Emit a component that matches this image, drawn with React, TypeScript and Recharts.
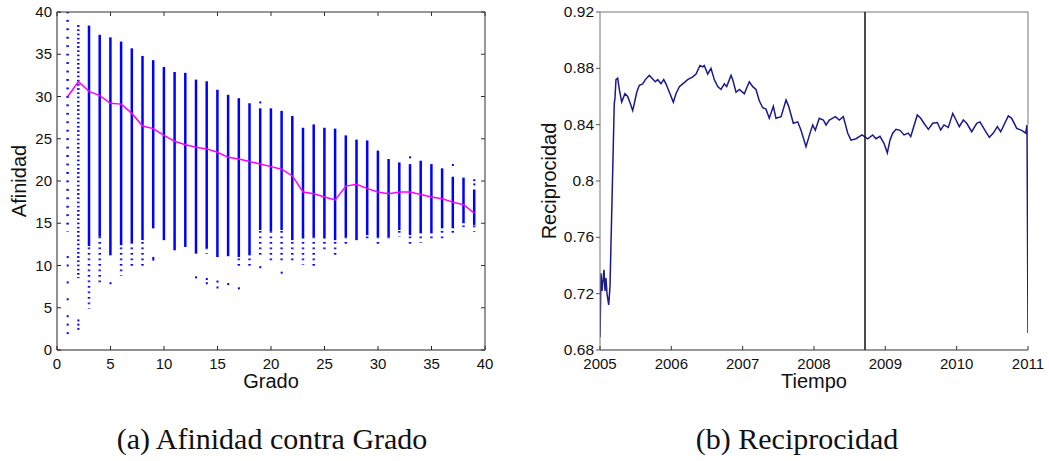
import React from "react";
import {
  ComposedChart,
  LineChart,
  Bar,
  Line,
  Scatter,
  Cell,
  XAxis,
  YAxis,
  ReferenceLine,
} from "recharts";

// (a) Afinidad contra Grado
const grado = [
  1, 2, 3, 4, 5, 6, 7, 8, 9, 10, 11, 12, 13, 14, 15, 16, 17, 18, 19, 20,
  21, 22, 23, 24, 25, 26, 27, 28, 29, 30, 31, 32, 33, 34, 35, 36, 37, 38, 39,
];
const afinidadMax = [
  40, 38.6, 38.4, 37.3, 37.0, 36.5, 35.7, 34.8, 34.3, 33.5, 32.9, 32.8, 32.0, 31.8, 30.8, 30.2, 29.8, 29.2, 28.6, 28.6,
  28.3, 27.7, 26.3, 26.7, 26.3, 26.2, 25.4, 24.9, 24.8, 23.6, 22.6, 22.2, 22.0, 22.4, 22.0, 21.5, 20.5, 20.4, 19.0,
];
const afinidadDenso = [
  40, 38.6, 12.3, 13.4, 11.2, 12.4, 12.6, 13.0, 14.4, 13.0, 11.8, 12.2, 11.4, 12.0, 11.0, 11.1, 11.0, 11.2, 14.2, 14.0,
  14.2, 13.0, 13.2, 13.3, 13.2, 13.0, 13.3, 13.0, 13.6, 13.3, 13.3, 14.2, 13.6, 13.8, 13.8, 14.4, 14.4, 15.0, 14.8,
];
const afinidadMin = [
  14, 8.5, 4.9, 7.7, 11.2, 8.8, 9.8, 9.9, 14.4, 13.0, 11.8, 12.2, 11.4, 11.4, 11.0, 11.1, 9.9, 9.8, 11.2, 10.3,
  10.5, 10.5, 10.1, 9.9, 11.6, 11.1, 12.2, 12.9, 13.0, 12.2, 12.8, 13.4, 12.2, 12.7, 12.8, 13.1, 13.8, 14.5, 14.0,
];
const afinidadMedia = [
  30.0, 31.75, 30.6, 30.1, 29.2, 29.1, 28.0, 26.5, 26.2, 25.4, 24.7, 24.3, 24.0, 23.8, 23.4, 22.8, 22.6, 22.3, 22.0, 21.7,
  21.4, 20.6, 18.7, 18.5, 18.1, 17.75, 19.4, 19.6, 19.1, 18.7, 18.5, 18.7, 18.7, 18.4, 18.1, 17.9, 17.5, 17.2, 16.2,
];
const atipicosGrado = [0, 1, 1, 1, 1, 1, 1, 1, 2, 2, 2, 5, 9, 9, 13, 14, 14, 15, 15, 16, 17, 19, 19, 21, 33, 37, 39, 39];
const atipicosAfinidad = [0, 2, 3, 4, 6, 8, 10, 11, 2.5, 3, 3.5, 7.9, 10.7, 10.9, 8.6, 8.4, 7.9, 8.1, 7.4, 7.8, 7.3, 29.3, 9.8, 9.15, 22.8, 21.9, 20.1, 19.6];
const ticksGrado = [0, 5, 10, 15, 20, 25, 30, 35, 40];
const ticksAfinidad = [0, 5, 10, 15, 20, 25, 30, 35, 40];

// (b) Reciprocidad
const tiempo = [
  2005.0, 2005.014, 2005.028, 2005.056, 2005.07, 2005.084, 2005.098, 2005.122, 2005.14, 2005.172,
  2005.2, 2005.21, 2005.224, 2005.248, 2005.271, 2005.304, 2005.35, 2005.388, 2005.425, 2005.458,
  2005.481, 2005.515, 2005.551, 2005.599, 2005.635, 2005.691, 2005.729, 2005.775, 2005.809, 2005.855,
  2005.893, 2005.925, 2005.981, 2006.028, 2006.065, 2006.112, 2006.159, 2006.229, 2006.3, 2006.346,
  2006.402, 2006.44, 2006.462, 2006.51, 2006.556, 2006.602, 2006.65, 2006.696, 2006.743, 2006.776,
  2006.837, 2006.86, 2006.907, 2006.953, 2007.023, 2007.093, 2007.141, 2007.187, 2007.233, 2007.281,
  2007.327, 2007.373, 2007.43, 2007.467, 2007.538, 2007.608, 2007.645, 2007.71, 2007.772, 2007.818,
  2007.888, 2007.944, 2007.982, 2008.018, 2008.074, 2008.131, 2008.168, 2008.215, 2008.299, 2008.355,
  2008.411, 2008.473, 2008.519, 2008.589, 2008.673, 2008.753, 2008.823, 2008.869, 2008.925, 2008.981,
  2009.028, 2009.065, 2009.103, 2009.15, 2009.206, 2009.262, 2009.322, 2009.356, 2009.384, 2009.448,
  2009.496, 2009.542, 2009.603, 2009.664, 2009.729, 2009.776, 2009.823, 2009.883, 2009.945, 2009.991,
  2010.037, 2010.093, 2010.141, 2010.211, 2010.281, 2010.327, 2010.397, 2010.458, 2010.514, 2010.57,
  2010.617, 2010.724, 2010.771, 2010.842, 2010.912, 2010.968, 2010.986, 2011.0,
];
const reciprocidad = [
  0.689, 0.7345, 0.722, 0.737, 0.722, 0.731, 0.72, 0.712, 0.725, 0.794,
  0.855, 0.859, 0.872, 0.873, 0.865, 0.856, 0.862, 0.86, 0.855, 0.85,
  0.855, 0.863, 0.868, 0.869, 0.872, 0.875, 0.873, 0.8705, 0.872, 0.869,
  0.872, 0.869, 0.862, 0.856, 0.862, 0.867, 0.869, 0.872, 0.874, 0.876,
  0.882, 0.881, 0.882, 0.876, 0.88, 0.872, 0.867, 0.865, 0.869, 0.867,
  0.875, 0.872, 0.863, 0.865, 0.862, 0.8705, 0.867, 0.865, 0.857, 0.852,
  0.851, 0.8445, 0.853, 0.8445, 0.8457, 0.8575, 0.853, 0.841, 0.842, 0.836,
  0.8244, 0.834, 0.8398, 0.836, 0.8445, 0.8433, 0.8398, 0.8433, 0.8457, 0.8433,
  0.8457, 0.8339, 0.829, 0.83, 0.8327, 0.83, 0.8327, 0.83, 0.8317, 0.8268,
  0.82, 0.829, 0.8339, 0.8367, 0.836, 0.8327, 0.834, 0.8315, 0.8362, 0.8469,
  0.8445, 0.841, 0.8367, 0.841, 0.8415, 0.8362, 0.8398, 0.838, 0.848, 0.8433,
  0.8386, 0.8433, 0.841, 0.835, 0.841, 0.842, 0.836, 0.831, 0.834, 0.8386,
  0.835, 0.8462, 0.8445, 0.8374, 0.836, 0.834, 0.8398, 0.692,
];
const fechaCorte = 2008.715;
const ticksTiempo = [2005, 2006, 2007, 2008, 2009, 2010, 2011];
const ticksReciprocidad = [0.68, 0.72, 0.76, 0.8, 0.84, 0.88, 0.92];

const datosAfinidad = grado.map((g, i) => ({
  grado: g,
  base: afinidadMin[i],
  cola: afinidadDenso[i] - afinidadMin[i],
  nucleo: afinidadMax[i] - afinidadDenso[i],
  media: afinidadMedia[i],
}));
const datosAtipicos = atipicosGrado.map((g, i) => ({ grado: g, afinidad: atipicosAfinidad[i] }));
const datosReciprocidad = tiempo.map((t, i) => ({ t, r: reciprocidad[i] }));

const FUENTE = "'Liberation Sans', Arial, Helvetica, sans-serif";
const AZUL = "#0000ff";

const TickAbajo = ({ x, y, payload, color = "#222" }: any) => (
  <g>
    <line x1={x} y1={y} x2={x} y2={y - 4} stroke={color} />
    <text x={x} y={y + 18.5} textAnchor="middle" fontSize={15} fontFamily={FUENTE} fill="#111">
      {payload.value}
    </text>
  </g>
);

const TickIzqAdentro = ({ x, y, payload }: any) => (
  <g>
    <line x1={x} y1={y} x2={x + 4} y2={y} stroke="#222" />
    <text x={x - 5} y={y + 5} textAnchor="end" fontSize={15} fontFamily={FUENTE} fill="#111">
      {payload.value}
    </text>
  </g>
);

const TickIzqAfuera = ({ x, y, payload }: any) => (
  <g>
    <line x1={x - 4} y1={y} x2={x} y2={y} stroke="#555" />
    <text x={x - 6} y={y + 5} textAnchor="end" fontSize={15.5} fontFamily={FUENTE} fill="#111">
      {Number(Number(payload.value).toFixed(2)).toString()}
    </text>
  </g>
);

const TickArriba = ({ x, y }: any) => <line x1={x} y1={y} x2={x} y2={y + 4} stroke="#333" />;
const TickDerecha = ({ x, y }: any) => <line x1={x} y1={y} x2={x - 4} y2={y} stroke="#333" />;

const Punto = (props: any) => <rect x={props.cx - 1} y={props.cy - 1} width={2} height={2} fill={AZUL} />;

function AfinidadGrado() {
  return (
    <ComposedChart
      width={500}
      height={400}
      data={datosAfinidad}
      margin={{ top: 11, right: 14, left: 0, bottom: 20 }}
      barSize={2.5}
    >
      <defs>
        <pattern id="puntosGruesos" patternUnits="userSpaceOnUse" width="10" height="8.45" y="3">
          <rect x="0" y="0" width="10" height="1.8" fill={AZUL} />
        </pattern>
        <pattern id="puntosFinos" patternUnits="userSpaceOnUse" width="10" height="4.2">
          <rect x="0" y="0" width="10" height="1.6" fill={AZUL} />
        </pattern>
        <pattern id="puntosCola" patternUnits="userSpaceOnUse" width="10" height="5.5">
          <rect x="0" y="0" width="10" height="1.6" fill={AZUL} />
        </pattern>
      </defs>
      <XAxis
        xAxisId="abajo"
        dataKey="grado"
        type="number"
        domain={[0, 40]}
        ticks={ticksGrado}
        allowDataOverflow
        height={30}
        tickSize={0}
        tickMargin={0}
        tickLine={false}
        axisLine={{ stroke: "#222" }}
        tick={<TickAbajo />}
        interval={0}
      />
      <XAxis
        xAxisId="arriba"
        dataKey="grado"
        orientation="top"
        type="number"
        domain={[0, 40]}
        ticks={ticksGrado}
        allowDataOverflow
        height={1}
        tickSize={0}
        tickMargin={0}
        tickLine={false}
        axisLine={{ stroke: "#333" }}
        tick={<TickArriba />}
        interval={0}
      />
      <YAxis
        yAxisId="izq"
        type="number"
        domain={[0, 40]}
        ticks={ticksAfinidad}
        allowDataOverflow
        width={57}
        tickSize={0}
        tickMargin={0}
        tickLine={false}
        axisLine={{ stroke: "#222" }}
        tick={<TickIzqAdentro />}
        interval={0}
      />
      <YAxis
        yAxisId="der"
        orientation="right"
        type="number"
        domain={[0, 40]}
        ticks={ticksAfinidad}
        allowDataOverflow
        width={1}
        tickSize={0}
        tickMargin={0}
        tickLine={false}
        axisLine={{ stroke: "#333" }}
        tick={<TickDerecha />}
        interval={0}
      />
      <Bar xAxisId="abajo" yAxisId="izq" dataKey="base" stackId="s" fill="transparent" isAnimationActive={false} />
      <Bar xAxisId="abajo" yAxisId="izq" dataKey="cola" stackId="s" isAnimationActive={false}>
        {datosAfinidad.map((d) => (
          <Cell
            key={d.grado}
            fill={d.grado === 1 ? "url(#puntosGruesos)" : d.grado === 2 ? "url(#puntosFinos)" : "url(#puntosCola)"}
          />
        ))}
      </Bar>
      <Bar xAxisId="abajo" yAxisId="izq" dataKey="nucleo" stackId="s" fill={AZUL} isAnimationActive={false} />
      <Scatter
        xAxisId="abajo"
        yAxisId="izq"
        data={datosAtipicos}
        dataKey="afinidad"
        shape={<Punto />}
        isAnimationActive={false}
      />
      <Line
        xAxisId="abajo"
        yAxisId="izq"
        dataKey="media"
        type="linear"
        stroke="#ff00ff"
        strokeWidth={1.5}
        dot={false}
        isAnimationActive={false}
      />
      {/* serie invisible para que los ejes espejo (arriba/derecha) se dibujen */}
      <Line
        xAxisId="arriba"
        yAxisId="der"
        dataKey="media"
        stroke="none"
        dot={false}
        activeDot={false}
        isAnimationActive={false}
      />
    </ComposedChart>
  );
}

function Reciprocidad() {
  return (
    <LineChart
      width={519}
      height={400}
      data={datosReciprocidad}
      margin={{ top: 12, right: 21, left: 0, bottom: 20 }}
    >
      <XAxis
        dataKey="t"
        type="number"
        domain={[2005, 2011]}
        ticks={ticksTiempo}
        allowDataOverflow
        height={30}
        tickSize={0}
        tickMargin={0}
        tickLine={false}
        axisLine={{ stroke: "#333" }}
        tick={<TickAbajo color="#333" />}
        interval={0}
      />
      <YAxis
        type="number"
        domain={[0.68, 0.92]}
        ticks={ticksReciprocidad}
        allowDataOverflow
        width={70}
        tickSize={0}
        tickMargin={0}
        tickLine={false}
        axisLine={{ stroke: "#777" }}
        tick={<TickIzqAfuera />}
        interval={0}
      />
      <ReferenceLine y={0.92} stroke="#777" />
      <ReferenceLine
        segment={[
          { x: 2011, y: 0.92 },
          { x: 2011, y: 0.84 },
        ]}
        stroke="#777"
      />
      <Line
        dataKey="r"
        type="linear"
        stroke="#1a1a8c"
        strokeWidth={1.5}
        dot={false}
        isAnimationActive={false}
      />
      <ReferenceLine x={fechaCorte} stroke="#111" strokeWidth={1.5} />
    </LineChart>
  );
}

export default function App() {
  return (
    <div
      style={{
        position: "absolute",
        left: 0,
        top: 0,
        width: 1049,
        height: 461,
        background: "#fff",
        overflow: "hidden",
      }}
    >
      <div style={{ position: "absolute", left: 0, top: 0 }}>
        <AfinidadGrado />
      </div>
      <div style={{ position: "absolute", left: 530, top: 0 }}>
        <Reciprocidad />
      </div>
      <svg
        width={1049}
        height={461}
        style={{ position: "absolute", left: 0, top: 0, pointerEvents: "none" }}
      >
        <g fontFamily={FUENTE} fontSize={20} fill="#111">
          <text x={271} y={388} textAnchor="middle">Grado</text>
          <text x={814} y={388} textAnchor="middle">Tiempo</text>
          <text transform="translate(26,181) rotate(-90)" textAnchor="middle">Afinidad</text>
          <text transform="translate(556,181) rotate(-90)" textAnchor="middle">Reciprocidad</text>
        </g>
        <g fontFamily="'Liberation Serif', 'Times New Roman', serif" fontSize={30} fill="#111">
          <text x={272} y={449} textAnchor="middle">(a) Afinidad contra Grado</text>
          <text x={797} y={449} textAnchor="middle">(b) Reciprocidad</text>
        </g>
      </svg>
    </div>
  );
}
